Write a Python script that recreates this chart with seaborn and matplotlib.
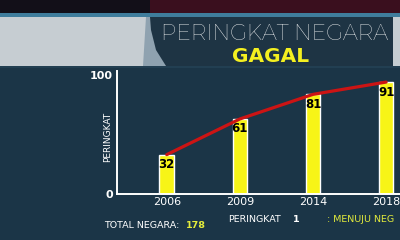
import matplotlib
matplotlib.use("Agg")
import matplotlib.pyplot as plt
import matplotlib.transforms as mtransforms
from matplotlib.patches import Polygon
import numpy as np
import seaborn as sns

# ---- data ----
years = ["2006", "2009", "2014", "2018"]
values = [32, 61, 81, 91]
yticks = [0, 100]
ytick_labels = ["0", "100"]
title_line1 = "PERINGKAT NEGARA"
title_line2 = "GAGAL"
ylabel = "PERINGKAT"
total_label = "TOTAL NEGARA: "
total_value = "178"
rank_label = "PERINGKAT"
rank_value = "1"
rank_desc = ": MENUJU NEG"

BG = "#1b3547"
YELLOW = "#f7f417"
TXTYEL = "#e4ec3c"
RED = "#cc1414"

sns.set_theme(style="white")
plt.rcParams["font.family"] = ["DejaVu Sans"]

W, H = 400, 240
fig = plt.figure(figsize=(4, 2.4), dpi=100, facecolor=BG)


def fx(x):
    return x / W


def fy(y):
    return 1 - y / H


def poly(points, color, z=0):
    p = Polygon([(fx(x), fy(y)) for x, y in points], closed=True,
                transform=fig.transFigure, facecolor=color, edgecolor="none",
                zorder=z)
    fig.add_artist(p)


# ---- header ----
poly([(0, 0), (400, 0), (400, 12.5), (0, 12.5)], "#120f18")
poly([(150, 0), (400, 0), (400, 12.5), (150, 12.5)], "#3a0f1e")
poly([(0, 12.5), (400, 12.5), (400, 17), (0, 17)], "#3f7d9c")
poly([(0, 17), (400, 17), (400, 66), (0, 66)], "#c6cdd2")
poly([(146, 17), (152, 17), (166, 66), (143, 66)], "#8fa2b0")
poly([(150, 17), (393, 17), (393, 66), (166, 66), (156, 50), (151, 30)], "#1e3444")
poly([(0, 66), (400, 66), (400, 68), (0, 68)], "#223f52")

fig.text(fx(275), fy(34), title_line1, color="white", fontsize=15.6,
         family=["Montserrat", "DejaVu Sans"], ha="center", va="center")
fig.text(fx(270.5), fy(56), title_line2, color="#f4f020", fontsize=14.5,
         fontweight="bold", ha="center", va="center")

# ---- chart ----
ax = fig.add_axes([fx(117), fy(194), fx(400) - fx(117), (194 - 71) / H])
ax.set_facecolor("none")

sns.barplot(x=years, y=values, width=0.2, color=YELLOW, saturation=1,
            ax=ax, zorder=2)
sns.lineplot(x=np.arange(len(values)), y=values, color=RED, linewidth=2.3,
             ax=ax, zorder=3)

for i, v in enumerate(values):
    ax.annotate(str(v), (i, v), xytext=(0, -2.5), textcoords="offset points",
                ha="center", va="top", fontsize=8.5, fontweight="bold",
                color="black", zorder=4)

ax.set_xlim(-0.68, 3.19)
ax.set_ylim(0, 100)
ax.set_yticks(yticks)
ax.set_yticklabels(ytick_labels, color="white", fontsize=8, fontweight="bold")
ax.tick_params(axis="x", colors="white", labelsize=8, length=0, pad=2)
ax.tick_params(axis="y", colors="white", length=0, pad=3)
for lab in ax.get_xticklabels():
    lab.set_color("white")
off = mtransforms.ScaledTranslation(0, -3 / 72, fig.dpi_scale_trans)
top_lab = ax.get_yticklabels()[-1]
top_lab.set_transform(top_lab.get_transform() + off)

for s in ["top", "right"]:
    ax.spines[s].set_visible(False)
for s in ["left", "bottom"]:
    ax.spines[s].set_color("white")
    ax.spines[s].set_linewidth(1.4)

ax.set_xlabel("")
ax.set_ylabel(ylabel, color="white", fontsize=6.5)
ax.yaxis.set_label_coords(-0.016, (194 - 137) / (194 - 71))

# ---- footer ----
fig.text(fx(104), fy(226), total_label, color="white", fontsize=6.8,
         ha="left", va="center")
fig.text(fx(186), fy(226), total_value, color=TXTYEL, fontsize=6.8,
         fontweight="bold", ha="left", va="center")
fig.text(fx(228), fy(220), rank_label, color="white", fontsize=6.8,
         ha="left", va="center")
fig.text(fx(293), fy(220), rank_value, color="white", fontsize=6.8,
         fontweight="bold", ha="left", va="center")
fig.text(fx(327), fy(220), rank_desc, color=TXTYEL, fontsize=6.8,
         ha="left", va="center")

fig.savefig("out.png", dpi=100, facecolor=BG)
